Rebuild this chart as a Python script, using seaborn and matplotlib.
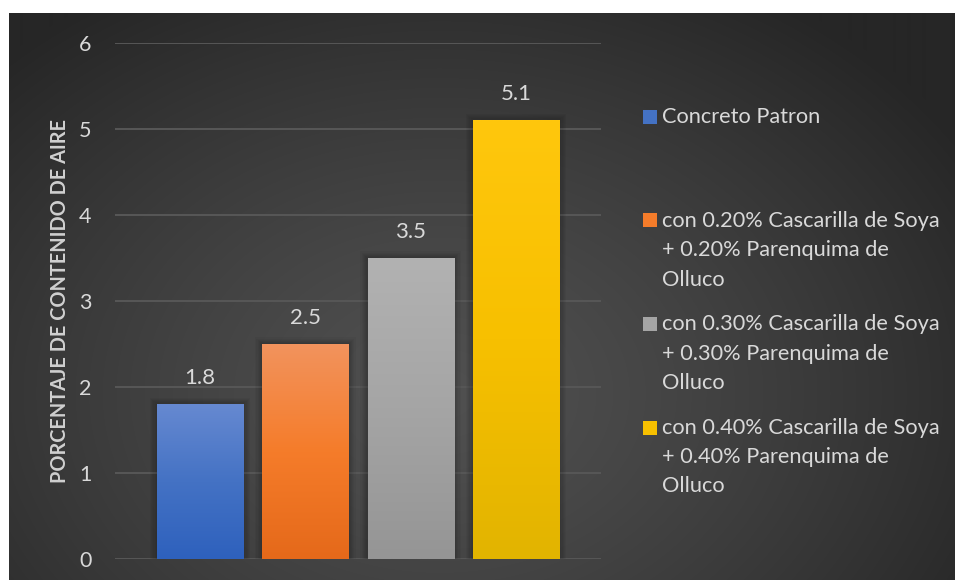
import matplotlib
matplotlib.use('Agg')
import matplotlib.pyplot as plt
import seaborn as sns
import numpy as np
import pandas as pd
from matplotlib.colors import to_rgb
from matplotlib.patches import Rectangle

sns.set_style("dark")
plt.rcParams['font.family'] = ['Lato', 'DejaVu Sans']

# data
series = ["Concreto Patron",
          "con 0.20% Cascarilla de Soya + 0.20% Parenquima de Olluco",
          "con 0.30% Cascarilla de Soya + 0.30% Parenquima de Olluco",
          "con 0.40% Cascarilla de Soya + 0.40% Parenquima de Olluco"]
legend_lines = [["Concreto Patron"],
                ["con 0.20% Cascarilla de Soya", "+ 0.20% Parenquima de", "Olluco"],
                ["con 0.30% Cascarilla de Soya", "+ 0.30% Parenquima de", "Olluco"],
                ["con 0.40% Cascarilla de Soya", "+ 0.40% Parenquima de", "Olluco"]]
values = [1.8, 2.5, 3.5, 5.1]
y_ticks = [0, 1, 2, 3, 4, 5, 6]
y_title = "PORCENTAJE DE CONTENIDO DE AIRE"

top_colors = ["#6689d1", "#f2935d", "#b2b2b2", "#ffc70d"]
mid_colors = ["#4472c4", "#f57c2a", "#a5a5a5", "#f7c000"]
bottom_colors = ["#2e61bd", "#e5691a", "#959595", "#e2b400"]
text_color = "#d9d9d9"

W, H = 955, 580
fig = plt.figure(figsize=(W / 100, H / 100), dpi=100, facecolor="white")

# dark radial background
bw, bh = 946, 567
yy, xx = np.mgrid[0:bh, 0:bw]
r = np.sqrt(((xx - 430) / 620.0) ** 2 + ((yy - 380) / 470.0) ** 2)
t = np.clip(r, 0, 1) ** 1.3
c0 = np.array(to_rgb("#505050"))
c1 = np.array(to_rgb("#262626"))
img = c0[None, None, :] * (1 - t[..., None]) + c1[None, None, :] * t[..., None]
bg = fig.add_axes([9 / W, 0, bw / W, bh / H], zorder=-1)
bg.imshow(img, aspect='auto', interpolation='bilinear')
bg.axis('off')

ax = fig.add_axes([115 / W, 21 / H, 486 / W, 516 / H])
ax.set_facecolor("none")

df = pd.DataFrame({"serie": series, "valor": values})
sns.barplot(data=df, x="serie", y="valor", hue="serie", palette=mid_colors,
            width=0.817, saturation=1, legend=False, ax=ax, zorder=3, linewidth=0)

px_x = 1 / 105.3
px_y = 1 / 86.0
for i, p in enumerate(ax.patches):
    x0, w, h = p.get_x(), p.get_width(), p.get_height()
    # soft shadow
    for k in range(1, 7):
        d = k * 1.2
        ax.add_patch(Rectangle((x0 - d * px_x, -d * px_y), w + 2 * d * px_x, h + 2 * d * px_y - 0.5 * px_y,
                               color="black", alpha=0.035, lw=0, zorder=2))
    # vertical gradient
    n = 200
    s = np.linspace(0, 1, n)
    ct, cm, cb = [np.array(to_rgb(c)) for c in (top_colors[i], mid_colors[i], bottom_colors[i])]
    grad = np.where(s[:, None] < 0.5,
                    ct * (1 - s[:, None] * 2) + cm * (s[:, None] * 2),
                    cm * (1 - (s[:, None] - 0.5) * 2) + cb * ((s[:, None] - 0.5) * 2))
    im = ax.imshow(grad[:, None, :], extent=(x0, x0 + w, 0, h), aspect='auto',
                   origin='upper', zorder=4, interpolation='bilinear')
    im.set_clip_path(p)
    ax.annotate(f"{values[i]}", (x0 + w / 2, h), xytext=(0, 26 * 0.72), textcoords="offset points",
                ha="center", va="center", color=text_color, fontsize=16)

ax.set_xlim(-0.807, 3.807)
ax.set_ylim(0, 6)
ax.set_yticks(y_ticks)
ax.set_yticklabels([str(v) for v in y_ticks])
ax.set_xticks([])
ax.set_xlabel("")
ax.set_ylabel("")
ax.yaxis.grid(True, color="#575757", lw=1.4)
ax.xaxis.grid(False)
ax.set_axisbelow(True)
for sp in ax.spines.values():
    sp.set_visible(False)
ax.tick_params(axis='y', length=0, pad=17, labelcolor=text_color, labelsize=15.5)

fig.text(60 / W, 1 - 301 / H, y_title, rotation=90, ha="center", va="center",
         color="#d0d0d0", fontsize=14.3, fontweight="bold")

# legend drawn by hand so the swatch sits on the first line
y0, slot, lh = 117, 103.5, 29.5
for i, lines in enumerate(legend_lines):
    yc = y0 + i * slot
    fig.patches.append(Rectangle((643 / W, 1 - (yc + 7) / H), 14 / W, 14 / H,
                                 transform=fig.transFigure, color=mid_colors[i], lw=0))
    for j, line in enumerate(lines):
        fig.text(662 / W, 1 - (yc + j * lh) / H, line, ha="left", va="center",
                 color=text_color, fontsize=15.7)

plt.savefig("out.png", dpi=100, facecolor="white")
